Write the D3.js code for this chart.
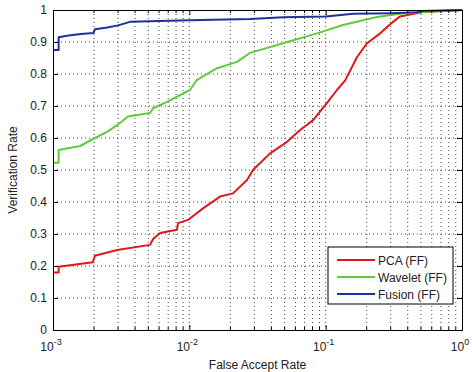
<!DOCTYPE html>
<html>
<head>
<meta charset="utf-8">
<script src="https://cdn.jsdelivr.net/npm/d3@7"></script>
<style>
  body { margin: 0; background: #fff; }
  svg { display: block; font-family: "Liberation Sans", Arial, sans-serif; }
</style>
</head>
<body>
<div id="chart"></div>
<script>
// ROC data: false accept rate (x) vs verification rate (y)
var pcaFar = [0.001, 0.0011, 0.0011, 0.00196, 0.00203, 0.00295, 0.00515, 0.00542, 0.0061, 0.00812, 0.00826, 0.00977,
  0.0126, 0.0168, 0.0209, 0.0265, 0.0293, 0.0391, 0.0521, 0.0649, 0.0809, 0.102, 0.121, 0.139, 0.17, 0.201, 0.251,
  0.312, 0.351, 0.416, 0.519, 1];
var pcaVr = [0.18, 0.18, 0.198, 0.212, 0.232, 0.25, 0.266, 0.284, 0.303, 0.313, 0.334, 0.344,
  0.38, 0.417, 0.427, 0.469, 0.5, 0.552, 0.588, 0.625, 0.656, 0.709, 0.75, 0.78, 0.853, 0.896, 0.927,
  0.963, 0.98, 0.986, 0.994, 1];

var waveFar = [0.001, 0.0011, 0.0011, 0.00158, 0.00203, 0.00249, 0.00295, 0.00355, 0.00515, 0.00542, 0.00686,
  0.0101, 0.0114, 0.016, 0.0224, 0.0279, 0.0486, 0.0865, 0.134, 0.238, 0.351, 0.519, 1];
var waveVr = [0.523, 0.523, 0.5625, 0.575, 0.6, 0.619, 0.64, 0.667, 0.678, 0.693, 0.713,
  0.75, 0.782, 0.818, 0.838, 0.866, 0.896, 0.927, 0.953, 0.978, 0.988, 0.994, 1];

var fusFar = [0.001, 0.0011, 0.0011, 0.0013, 0.0016, 0.00198, 0.00203, 0.0025, 0.003, 0.00367, 0.01, 0.028,
  0.049, 0.1, 0.16, 0.3, 0.47, 0.5, 1];
var fusVr = [0.875, 0.875, 0.915, 0.92, 0.925, 0.928, 0.94, 0.945, 0.952, 0.963, 0.968, 0.972,
  0.977, 0.98, 0.988, 0.99, 0.993, 0.997, 1];

var series = [
  {name: "PCA (FF)", far: pcaFar, vr: pcaVr, color: "#e0181c"},
  {name: "Wavelet (FF)", far: waveFar, vr: waveVr, color: "#5fcc3a"},
  {name: "Fusion (FF)", far: fusFar, vr: fusVr, color: "#1f2f9c"}
];

var yTicks = [0, 0.1, 0.2, 0.3, 0.4, 0.5, 0.6, 0.7, 0.8, 0.9, 1];
var xDecades = [0.001, 0.01, 0.1, 1];
var xExps = ["-3", "-2", "-1", "0"];

var margin = {top: 10, right: 10, bottom: 42, left: 53},
    width = 472 - margin.left - margin.right,
    height = 372 - margin.top - margin.bottom;

var svg = d3.select("#chart")
  .append("svg")
    .attr("width", 472)
    .attr("height", 372)
  .append("g")
    .attr("transform", "translate(" + margin.left + "," + margin.top + ")");

var x = d3.scaleLog()
  .domain([0.001, 1])
  .range([0, width]);
var y = d3.scaleLinear()
  .domain([0, 1])
  .range([height, 0]);

// minor positions 2..9 in each decade
var xMinor = [];
xDecades.slice(0, 3).forEach(function(d) {
  for (var k = 2; k <= 9; k++) xMinor.push(d * k);
});
var xGrid = xMinor.concat([0.01, 0.1]);

// grid
svg.selectAll(".xgrid")
  .data(xGrid)
  .enter().append("line")
    .attr("x1", d => x(d)).attr("x2", d => x(d))
    .attr("y1", 0).attr("y2", height)
    .attr("stroke", "#444")
    .attr("stroke-width", 1)
    .attr("stroke-dasharray", "1,3");
svg.selectAll(".ygrid")
  .data(yTicks.slice(1, -1))
  .enter().append("line")
    .attr("x1", 0).attr("x2", width)
    .attr("y1", d => y(d)).attr("y2", d => y(d))
    .attr("stroke", "#444")
    .attr("stroke-width", 1)
    .attr("stroke-dasharray", "1,3");

// curves
var line = d3.line()
  .x(function(d) { return x(d[0]); })
  .y(function(d) { return y(d[1]); });

series.forEach(function(s) {
  var pts = s.far.map(function(f, i) { return [f, s.vr[i]]; });
  svg.append("path")
    .datum(pts)
    .attr("fill", "none")
    .attr("stroke", s.color)
    .attr("stroke-width", 2)
    .attr("stroke-linejoin", "round")
    .attr("d", line);
});

// axes (ticks pointing inward, box on)
var axB = svg.append("g")
  .attr("transform", "translate(0," + height + ")")
  .call(d3.axisBottom(x).tickValues(xDecades).tickSize(-5).tickFormat(""));
var axT = svg.append("g")
  .call(d3.axisTop(x).tickValues(xDecades).tickSize(-5).tickFormat(""));
var axL = svg.append("g")
  .call(d3.axisLeft(y).tickValues(yTicks).tickSize(-5).tickPadding(6).tickFormat(d3.format("")));
var axR = svg.append("g")
  .attr("transform", "translate(" + width + ",0)")
  .call(d3.axisRight(y).tickValues(yTicks).tickSize(-5).tickFormat(""));

[axB, axT, axL, axR].forEach(function(a) {
  a.select(".domain").attr("stroke", "#000");
  a.selectAll(".tick line").attr("stroke", "#000");
});
axL.selectAll(".tick text")
  .attr("font-size", 12)
  .attr("fill", "#222")
  .attr("font-family", "Liberation Sans, Arial, sans-serif");

// minor x ticks top and bottom
svg.selectAll(".minB")
  .data(xMinor)
  .enter().append("line")
    .attr("x1", d => x(d)).attr("x2", d => x(d))
    .attr("y1", height).attr("y2", height - 3)
    .attr("stroke", "#000");
svg.selectAll(".minT")
  .data(xMinor)
  .enter().append("line")
    .attr("x1", d => x(d)).attr("x2", d => x(d))
    .attr("y1", 0).attr("y2", 3)
    .attr("stroke", "#000");

// x tick labels 10^n
var xl = svg.selectAll(".xlab")
  .data(xDecades)
  .enter().append("text")
    .attr("x", d => x(d) - 2)
    .attr("y", height + 21)
    .attr("text-anchor", "middle")
    .attr("font-size", 12)
    .attr("fill", "#222");
xl.append("tspan").text("10");
xl.append("tspan")
  .attr("dy", -6)
  .attr("font-size", 9)
  .text(function(d, i) { return xExps[i]; });

// axis titles
svg.append("text")
  .attr("x", width / 2)
  .attr("y", height + 39)
  .attr("text-anchor", "middle")
  .attr("font-size", 12)
  .attr("fill", "#222")
  .text("False Accept Rate");
svg.append("text")
  .attr("transform", "translate(" + (-36) + "," + (height / 2) + ") rotate(-90)")
  .attr("text-anchor", "middle")
  .attr("font-size", 12)
  .attr("fill", "#222")
  .text("Verification Rate");

// legend
var lg = svg.append("g")
  .attr("transform", "translate(" + (width - 134) + "," + (height - 83) + ")");
lg.append("rect")
  .attr("width", 125)
  .attr("height", 57)
  .attr("fill", "#fff")
  .attr("stroke", "#000");
series.forEach(function(s, i) {
  var yy = 13 + i * 17;
  lg.append("line")
    .attr("x1", 9).attr("x2", 47)
    .attr("y1", yy).attr("y2", yy)
    .attr("stroke", s.color)
    .attr("stroke-width", 2);
  lg.append("text")
    .attr("x", 50)
    .attr("y", yy + 4.5)
    .attr("font-size", 12)
    .attr("fill", "#222")
    .text(s.name);
});
</script>
</body>
</html>
